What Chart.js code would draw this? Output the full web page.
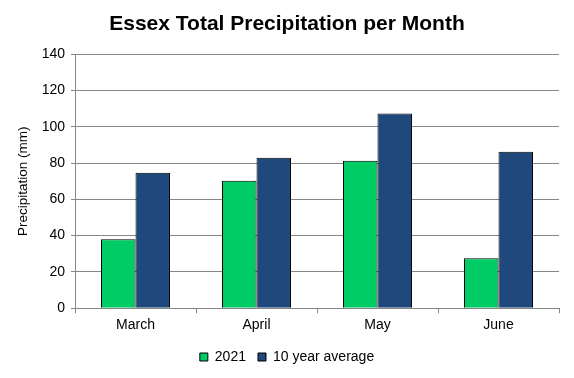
<!DOCTYPE html>
<html>
<head>
<meta charset="utf-8">
<script src="https://cdn.jsdelivr.net/npm/chart.js@4"></script>
<style>
html,body{margin:0;padding:0;background:#fff;}
#wrap{width:574px;height:378px;position:relative;}
</style>
</head>
<body>
<div id="wrap"><canvas id="c" width="574" height="378"></canvas></div>
<script>
const categories = ["March", "April", "May", "June"];
const series2021 = [38, 70.2, 81.3, 27.5];
const seriesAverage = [74.6, 82.9, 107.3, 86.3];
const seriesNames = ["2021", "10 year average"];
const yTicks = [0, 20, 40, 60, 80, 100, 120, 140];

const FONT = "'Liberation Sans', Arial, sans-serif";
const grid = '#868686';

new Chart(document.getElementById('c'), {
  type: 'bar',
  data: {
    labels: categories,
    datasets: [
      { label: seriesNames[0], data: series2021, backgroundColor: '#00CC66', borderColor: '#000', borderWidth: 1 },
      { label: seriesNames[1], data: seriesAverage, backgroundColor: '#1F497D', borderColor: '#000', borderWidth: 1 }
    ]
  },
  options: {
    responsive: false,
    animation: false,
    devicePixelRatio: 1,
    layout: { padding: { left: 0, right: 0, top: 0, bottom: 4 } },
    datasets: { bar: { categoryPercentage: 0.57, barPercentage: 1.0 } },
    plugins: {
      title: {
        display: true,
        text: 'Essex Total Precipitation per Month',
        color: '#000',
        font: { family: FONT, size: 21, weight: 'bold' },
        padding: { top: 12, bottom: 17 }
      },
      legend: {
        position: 'bottom',
        labels: {
          color: '#000',
          font: { family: FONT, size: 14 },
          boxWidth: 8, boxHeight: 8,
          padding: 12,
          generateLabels: (chart) => chart.data.datasets.map((ds, i) => ({
            text: ds.label, fillStyle: ds.backgroundColor, strokeStyle: '#000', lineWidth: 1,
            fontColor: '#000', datasetIndex: i, hidden: false
          }))
        }
      },
      tooltip: { enabled: false }
    },
    scales: {
      x: {
        grid: { offset: true, drawOnChartArea: false, drawTicks: true, tickLength: 5, color: grid },
        border: { color: grid },
        ticks: { color: '#000', font: { family: FONT, size: 14 }, padding: 4 }
      },
      y: {
        min: 0, max: 140,
        afterBuildTicks: (s) => { s.ticks = yTicks.map(v => ({ value: v })); },
        afterFit: (s) => { s.width = 75; },
        grid: { color: grid, tickLength: 4 },
        border: { color: grid },
        ticks: { color: '#000', font: { family: FONT, size: 14 }, padding: 6 },
        title: { display: true, text: 'Precipitation (mm)', color: '#000', font: { family: FONT, size: 13.5 }, padding: { top: 15, bottom: 4 } }
      },
      yRight: {
        position: 'right',
        min: 0, max: 140,
        display: true,
        afterFit: (s) => { s.width = 15; },
        grid: { display: false, drawOnChartArea: false },
        border: { display: false },
        ticks: { display: false }
      }
    }
  }
});
</script>
</body>
</html>
